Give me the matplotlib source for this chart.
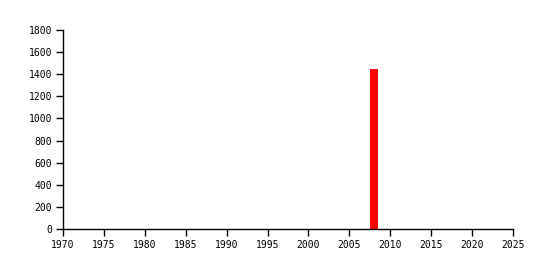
import matplotlib
matplotlib.use('Agg')
import matplotlib.pyplot as plt

years = [2008]
values = [1450]
x_ticks = list(range(1970, 2026, 5))
y_ticks = list(range(0, 1801, 200))

fig = plt.figure(figsize=(5.49, 2.70), dpi=100)
ax = fig.add_axes([63/549, 41/270, 450/549, 199/270])
ax.bar(years, values, width=1.0, color='#ff0000', align='center')
ax.set_xlim(1970, 2025)
ax.set_ylim(0, 1800)
ax.set_xticks(x_ticks)
ax.set_yticks(y_ticks)
for s in ('top', 'right'):
    ax.spines[s].set_visible(False)
for s in ('left', 'bottom'):
    ax.spines[s].set_linewidth(1)
    ax.spines[s].set_color('black')
ax.tick_params(direction='out', length=5, width=1, labelsize=7, pad=3)
for lab in ax.get_xticklabels() + ax.get_yticklabels():
    lab.set_family('DejaVu Sans Mono')
fig.savefig('out.png', dpi=100)
